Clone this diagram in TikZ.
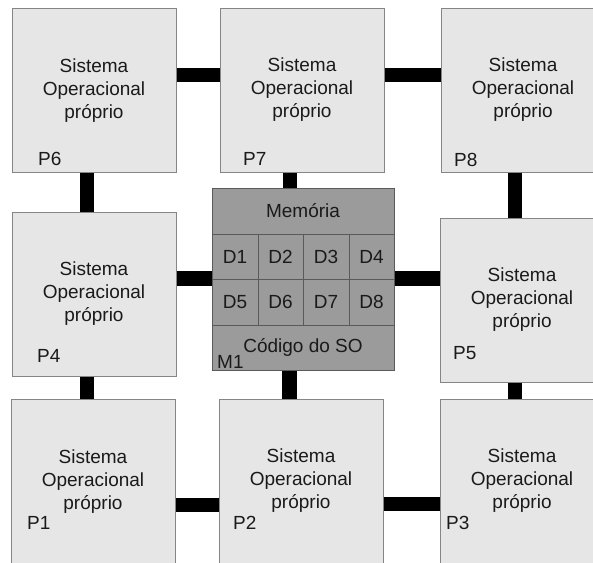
\documentclass[tikz,border=0pt]{standalone}
\usepackage{fontspec}
\setmainfont{Liberation Sans}
\usetikzlibrary{calc}
\definecolor{boxfill}{HTML}{E6E6E6}
\definecolor{boxline}{HTML}{858585}
\definecolor{memfill}{HTML}{9B9B9B}
\definecolor{memline}{HTML}{5A5A5A}
\definecolor{txt}{HTML}{1A1A1A}
\tikzset{
  procbox/.style={draw=boxline, line width=1pt, fill=boxfill, minimum width=164pt, minimum height=164pt,
    inner sep=0pt, align=center, text=txt, font=\fontsize{19}{23}\selectfont},
  membox/.style={draw=memline, line width=1pt, fill=memfill, minimum width=182pt, minimum height=182pt, inner sep=0pt},
  lbl/.style={anchor=west, inner sep=0pt, text=txt, font=\fontsize{19}{23}\selectfont},
  cell/.style={inner sep=0pt, text=txt, font=\fontsize{19}{23}\selectfont},
  bus/.style={line width=14.5pt, draw=black},
  grid/.style={draw=memline, line width=0.8pt}
}
\begin{document}
\begin{tikzpicture}[x=1pt,y=-1pt]
\useasboundingbox (0,0) rectangle (593,562);
\clip (0,0) rectangle (593,562);
% processor boxes
\node[procbox] (p6) at (94,90.5) {Sistema\\Operacional\\próprio};
\node[procbox] (p7) at (302,90) {Sistema\\Operacional\\próprio};
\node[procbox] (p8) at (523,90) {Sistema\\Operacional\\próprio};
\node[procbox] (p4) at (94,294) {Sistema\\Operacional\\próprio};
\node[procbox] (p5) at (522,300) {Sistema\\Operacional\\próprio};
\node[procbox] (p1) at (93,481.5) {Sistema\\Operacional\\próprio};
\node[procbox] (p2) at (301,481) {Sistema\\Operacional\\próprio};
\node[procbox] (p3) at (522,481) {Sistema\\Operacional\\próprio};
% memory
\node[membox] (m1) at (303,279) {};
\draw[grid] (212,234) -- (394,234);
\draw[grid] (212,279) -- (394,279);
\draw[grid] (212,325) -- (394,325);
\draw[grid] (258,234) -- (258,325);
\draw[grid] (303,234) -- (303,325);
\draw[grid] (349,234) -- (349,325);
\node[cell] (mem) at (303,211) {Memória};
\node[cell] (d1) at (235,256.5) {D1};
\node[cell] (d2) at (280.5,256.5) {D2};
\node[cell] (d3) at (326,256.5) {D3};
\node[cell] (d4) at (371.5,256.5) {D4};
\node[cell] (d5) at (235,302) {D5};
\node[cell] (d6) at (280.5,302) {D6};
\node[cell] (d7) at (326,302) {D7};
\node[cell] (d8) at (371.5,302) {D8};
\node[cell] (cod) at (303,347) {Código do SO};
% labels
\node[lbl] (l6) at (38,159) {P6};
\node[lbl] (l7) at (243,159) {P7};
\node[lbl] (l8) at (454,160) {P8};
\node[lbl] (l4) at (37,356) {P4};
\node[lbl] (l5) at (453,353) {P5};
\node[lbl] (l1) at (27,523) {P1};
\node[lbl] (l2) at (233,523) {P2};
\node[lbl] (l3) at (446,523) {P3};
\node[lbl] (lm) at (217,362) {M1};
% connectors
\draw[bus] ([yshift=15.5pt]p6.east) -- ([yshift=15.5pt]p6.east -| p7.west);
\draw[bus] ([yshift=15pt]p7.east) -- ([yshift=15pt]p7.east -| p8.west);
\draw[bus] ([xshift=-7pt]p6.south) -- ([xshift=-7pt]p6.south |- p4.north);
\draw[bus] ([xshift=-12pt]p7.south) -- ([xshift=-12pt]p7.south |- m1.north);
\draw[bus] ([xshift=-8pt]p8.south) -- ([xshift=-8pt]p8.south |- p5.north);
\draw[bus] ([yshift=15.5pt]p4.east) -- ([yshift=15.5pt]p4.east -| m1.west);
\draw[bus] ([yshift=0.5pt]m1.east) -- ([yshift=0.5pt]m1.east -| p5.west);
\draw[bus] ([xshift=-7pt]p4.south) -- ([xshift=-7pt]p4.south |- p1.north);
\draw[bus] ([xshift=-13.5pt]m1.south) -- ([xshift=-13.5pt]m1.south |- p2.north);
\draw[bus] ([xshift=-7pt]p5.south) -- ([xshift=-7pt]p5.south |- p3.north);
\draw[bus] ([yshift=-23.5pt]p1.east) -- ([yshift=-23.5pt]p1.east -| p2.west);
\draw[bus] ([yshift=-23pt]p2.east) -- ([yshift=-23pt]p2.east -| p3.west);
\end{tikzpicture}
\end{document}
